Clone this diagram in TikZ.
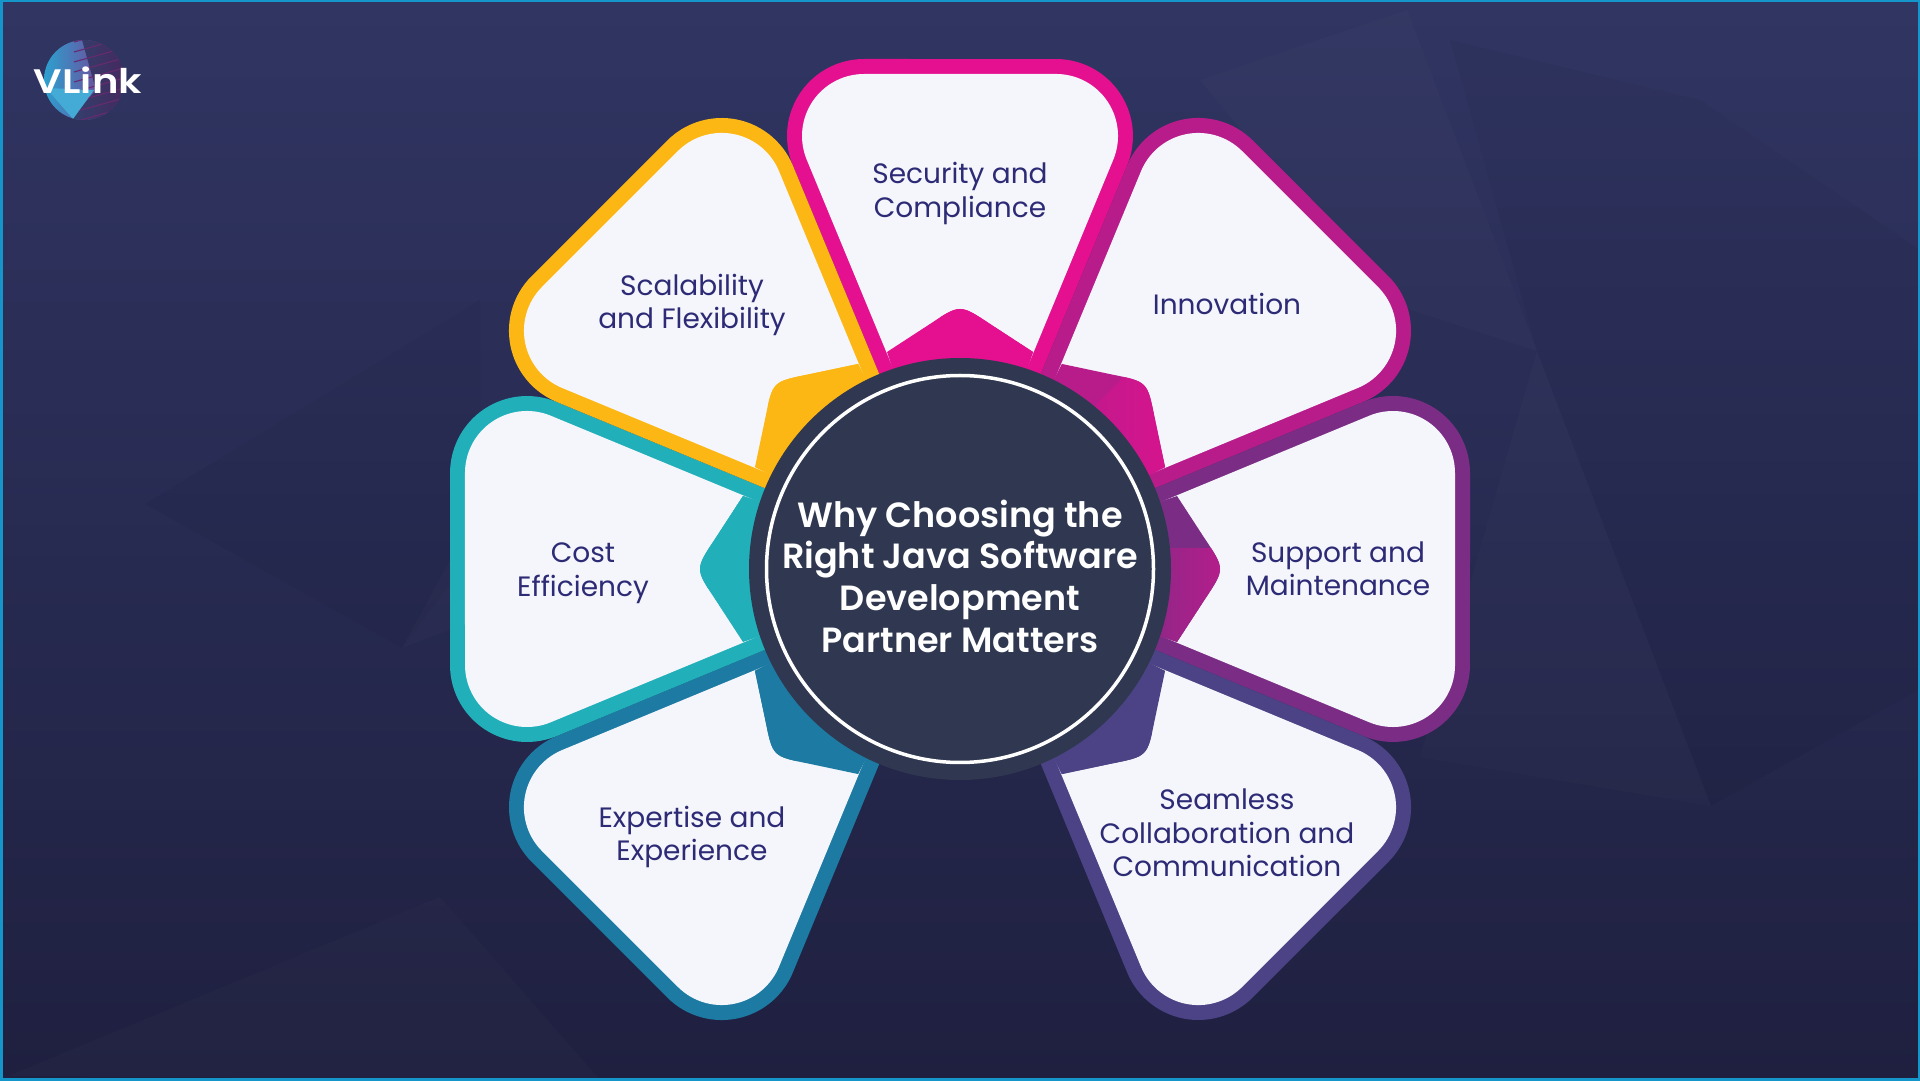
\documentclass[tikz,border=0pt]{standalone}
\usepackage{fontspec}
\setmainfont{Poppins}
\newfontfamily\popsemi{Poppins SemiBold}
\definecolor{cSec}{HTML}{E4108F}
\definecolor{cInn}{HTML}{B81C8B}
\definecolor{cSup}{HTML}{7B2D86}
\definecolor{cSea}{HTML}{4B4385}
\definecolor{cExp}{HTML}{1C7AA3}
\definecolor{cCos}{HTML}{21AFB9}
\definecolor{cSca}{HTML}{FDB714}
\definecolor{cDisc}{HTML}{2F3850}
\definecolor{cPaper}{HTML}{F4F6FB}
\definecolor{cText}{HTML}{2D2A76}
\definecolor{cEdge}{HTML}{1496CA}
\definecolor{bgA}{HTML}{303562}
\definecolor{bgB}{HTML}{23264C}
\definecolor{bgC}{HTML}{1F2040}
\tikzset{
  petallabel/.style={text=cText,align=center,inner sep=0pt,font=\fontsize{28}{33.5}\selectfont},
  facet/.style={fill=white,opacity=0.014},
  darkfacet/.style={fill=black,opacity=0.03}
}
\begin{document}
\begin{tikzpicture}[x=1pt,y=1pt]
\useasboundingbox (0,0) rectangle (1920,1080);
% background
\shade[top color=bgA,middle color=bgB,bottom color=bgC] (0,0) rectangle (1920,1080);
\fill[facet] (1407,1070) -- (1537,729) -- (1380,780) -- (1200,1000) -- cycle;
\fill[darkfacet] (1450,1040) -- (1537,729) -- (1711,274) -- (1920,391) -- (1920,830) -- (1700,980) -- cycle;
\fill[facet] (1537,729) -- (1711,274) -- (1420,323) -- cycle;
\fill[darkfacet] (145,576) -- (402,432) -- (480,536) -- (480,780) -- cycle;
\fill[facet] (402,432) -- (480,462) -- (480,575) -- cycle;
\fill[facet] (8,4) -- (440,183) -- (600,0) -- cycle;
% logo
\begin{scope}
\clip (84,1000) circle[radius=40];
\shade[left color=cEdge!90!white,right color=cSup!85!cSec] (44,960) rectangle (124,1040);
\fill[bgA!80!black,opacity=0.7] (82,1040) -- (124,1040) -- (124,960) -- (70,960) -- (96,990) -- cycle;
\foreach \k in {0,...,8}{
  \draw[cSec!30!bgA,line width=1.1pt] (74,{958+\k*10}) -- (124,{972+\k*10});
}
\fill[cEdge!80!white] (46,992) -- (73,961) -- (94,990) -- cycle;
\end{scope}
\node[inner sep=0pt,text=white,xscale=1.18] (logoword) at (88,1000) {\fontsize{34}{34}\selectfont\popsemi VLink};
% petals
\begin{scope}[shift={(960,511)}]
\foreach \ang/\col/\alt in {0/cSec/cSec,-45/cInn/cSec,-90/cSup/cInn,-135/cSea/cSea,135/cExp/cExp,90/cCos/cCos,45/cSca/cSca}{
  \begin{scope}[rotate=\ang]
    \fill[\col] (0,0) -- (167.1,403.5) arc[start angle=-22.5,end angle=90,radius=77] -- (-96,510) arc[start angle=90,end angle=202.5,radius=77] -- cycle;
    \fill[cPaper] (0,39) -- (153.3,409.3) arc[start angle=-22.5,end angle=90,radius=62] -- (-96,495) arc[start angle=90,end angle=202.5,radius=62] -- cycle;
    \fill[\col] (0,0) -- (73,217) -- (30,245) .. controls (0,265) .. (-30,245) -- (-73,217) -- cycle;
    \begin{scope}
      \clip (0,0) -- (73,217) -- (30,245) .. controls (0,265) .. (-30,245) -- (-73,217) -- cycle;
      \shade[left color=\col,right color=\alt] (-20,150) rectangle (95,270);
    \end{scope}
  \end{scope}
}
\fill[cDisc] (0,0) circle[radius=211];
\draw[white,line width=3.5pt] (0,0) circle[radius=193.5];
\end{scope}
% labels
\node[circle,inner sep=0pt,text=white,align=center,font=\fontsize{35}{41.7}\selectfont\popsemi] (hub) at (960,504) {Why Choosing the\\Right Java Software\\Development\\Partner Matters};
\node[petallabel] (security) at (960,886.5) {Security and\\Compliance};
\node[petallabel] (scalability) at (692,775) {Scalability\\and Flexibility};
\node[petallabel] (innovation) at (1227,776) {Innovation};
\node[petallabel] (cost) at (583,507) {Cost\\Efficiency};
\node[petallabel] (support) at (1338,511) {Support and\\Maintenance};
\node[petallabel] (expertise) at (692,243) {Expertise and\\Experience};
\node[petallabel] (seamless) at (1227,247) {Seamless\\Collaboration and\\Communication};
% frame
\draw[cEdge,line width=5pt] (0,0) rectangle (1920,1080);
\end{tikzpicture}
\end{document}
